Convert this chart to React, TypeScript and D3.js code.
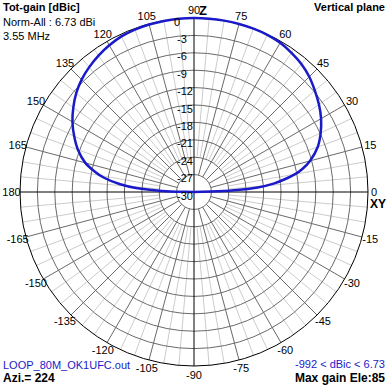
import React from 'react';
import * as d3 from 'd3';

// elevation angle (deg, 0 = horizon right, 90 = zenith) and normalized gain (dB)
const elevations = [0, 1, 2, 3, 4, 6, 8, 10, 12, 15, 20, 25, 30, 35, 40, 45, 50, 55, 60, 65, 70, 75, 80, 85, 90,
  95, 100, 105, 110, 115, 120, 125, 130, 135, 140, 145, 150, 155, 160, 165, 168, 171, 174, 176, 178, 179, 180];
const gains = [-40, -28.5, -24, -21.2, -19, -16.2, -14.2, -12.3, -10.9, -9.3, -7.3, -5.9, -4.7, -3.7, -2.8, -1.9, -1.2, -0.7, -0.3, -0.1, -0.03, 0, 0, 0, 0,
  -0.02, -0.05, -0.1, -0.2, -0.4, -0.8, -1.3, -1.9, -2.6, -3.5, -4.6, -5.8, -7.2, -8.7, -10.6, -12.3, -14.3, -17.2, -20, -24.5, -28.5, -40];

const ringValues = [-27, -24, -21, -18, -15, -12, -9, -6, -3];
const ringLabels = ['0', '-3', '-6', '-9', '-12', '-15', '-18', '-21', '-24', '-27', '-30'];
const angleTicks = [0, 15, 30, 45, 60, 75, 90, 105, 120, 135, 150, 165, 180, 195, 210, 225, 240, 255, 270, 285, 300, 315, 330, 345];
const angleLabels = ['0', '15', '30', '45', '60', '75', '90', '105', '120', '135', '150', '165', '180',
  '-165', '-150', '-135', '-120', '-105', '-90', '-75', '-60', '-45', '-30', '-15'];

const W = 388;
const H = 386;
const cx = 194;
const cy = 192;
const R = 174;
const FONT = '"Liberation Sans", Arial, sans-serif';
const BLUE = '#1a1ac8';

export default function App() {
  const r = d3.scaleLinear().domain([-30, 0]).range([0, R]).clamp(true);
  const rad = (deg: number) => (deg * Math.PI) / 180;
  const px = (deg: number, rr: number) => cx + rr * Math.cos(rad(deg));
  const py = (deg: number, rr: number) => cy - rr * Math.sin(rad(deg));

  const minorAngles = d3.range(0, 360, 5).filter(a => a % 15 !== 0);

  const pts: [number, number][] = elevations.map((e, i) => [rad(90 - e), r(gains[i])]);
  const line = d3.lineRadial().curve(d3.curveCatmullRom.alpha(0.5))(pts) || '';

  return (
    <svg width={W} height={H} style={{ position: 'absolute', left: 0, top: 0, background: '#fff' }}
      fontFamily={FONT} fontSize={11}>
      <rect width={W} height={H} fill="#fff" />
      {/* minor radials */}
      {minorAngles.map(a => (
        <line key={'m' + a} x1={px(a, r(-24))} y1={py(a, r(-24))} x2={px(a, R)} y2={py(a, R)}
          stroke="#cccccc" strokeWidth={1} />
      ))}
      {/* major radials */}
      {angleTicks.filter(a => a % 90 !== 0).map(a => (
        <line key={'M' + a} x1={px(a, r(-27))} y1={py(a, r(-27))} x2={px(a, R)} y2={py(a, R)}
          stroke="#6a6a6a" strokeWidth={1} />
      ))}
      {ringValues.map(v => (
        <circle key={'r' + v} cx={cx} cy={cy} r={r(v)} fill="none" stroke="#6a6a6a" strokeWidth={1} />
      ))}
      <circle cx={cx} cy={cy} r={R} fill="none" stroke="#000" strokeWidth={1} />
      <line x1={cx - R} y1={cy} x2={cx + R} y2={cy} stroke="#000" strokeWidth={1} />
      <line x1={cx} y1={cy - R} x2={cx} y2={cy + R} stroke="#000" strokeWidth={1} />

      <path d={line} transform={`translate(${cx},${cy})`} fill="none" stroke={BLUE} strokeWidth={2.5}
        strokeLinejoin="round" />

      {/* ring labels */}
      {ringLabels.map((t, i) => (
        <text key={'rl' + i} x={cx - (t === '0' ? 20 : 17)} y={cy - r(-3 * i) + 7.5} fill="#000">{t}</text>
      ))}

      {/* angle labels */}
      {angleTicks.map((a, i) => (
        <text key={'al' + i} x={px(a, R + (a === 0 ? 6 : 8.5))} y={py(a, R + 8.5)} textAnchor="middle"
          dominantBaseline="central" fill="#000">{angleLabels[i]}</text>
      ))}
      <text x={cx + 5} y={15} fontWeight="bold" fontSize={13}>Z</text>
      <text x={370} y={208} fontWeight="bold" fontSize={12}>XY</text>

      <text x={3} y={11} fontWeight="bold">Tot-gain [dBic]</text>
      <text x={3} y={26}>Norm-All : 6.73 dBi</text>
      <text x={3} y={40}>3.55 MHz</text>
      <text x={385} y={11} fontWeight="bold" textAnchor="end">Vertical plane</text>

      <text x={3} y={369} fill={BLUE}>LOOP_80M_OK1UFC.out</text>
      <text x={3} y={382} fontWeight="bold" fontSize={12}>Azi.= 224</text>
      <text x={385} y={368} fill={BLUE} textAnchor="end">-992 &lt; dBic &lt; 6.73</text>
      <text x={385} y={382} fontWeight="bold" fontSize={12} textAnchor="end">Max gain Ele:85</text>
    </svg>
  );
}
